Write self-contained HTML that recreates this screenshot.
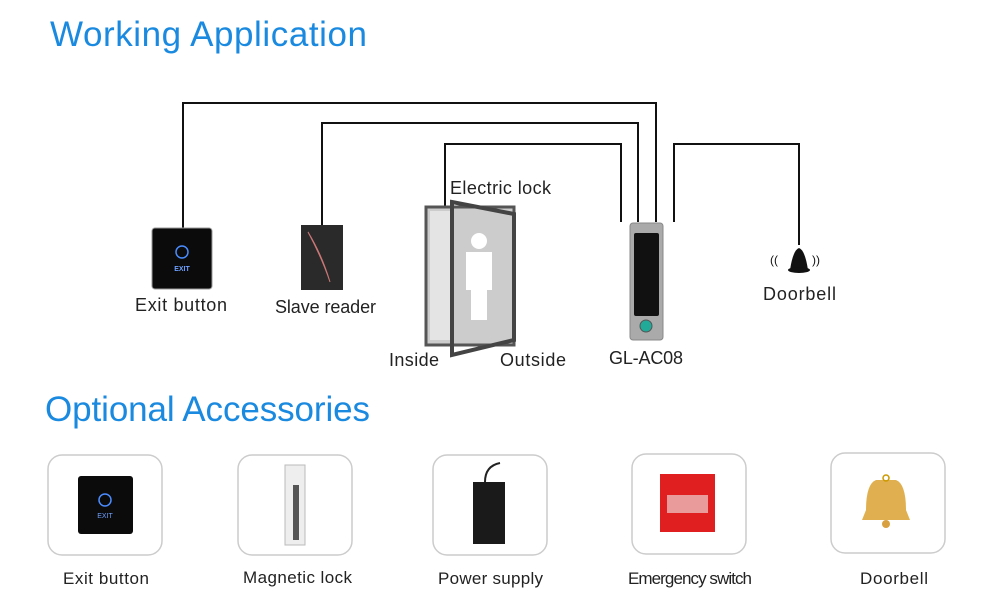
<!DOCTYPE html>
<html><head><meta charset="utf-8"><style>
body{margin:0;background:#fff;width:993px;height:597px;overflow:hidden;font-family:"Liberation Sans",sans-serif}
</style></head><body>
<svg width="993" height="597" viewBox="0 0 993 597" xmlns="http://www.w3.org/2000/svg" font-family="Liberation Sans, sans-serif">
<text x="50" y="46" font-size="35" fill="#1a8ae0" textLength="317">Working Application</text>
<text x="45" y="421" font-size="35" fill="#1a8ae0" textLength="325">Optional Accessories</text>
<g fill="none" stroke="#111" stroke-width="2">
<polyline points="183,228 183,103 656,103 656,222"/>
<polyline points="322,226 322,123 638,123 638,222"/>
<polyline points="445,207 445,144 621,144 621,222"/>
<polyline points="674,222 674,144 799,144 799,245"/>
</g>
<!-- exit button -->
<rect x="152" y="228" width="60" height="61" rx="3" fill="#0b0b0b" stroke="#999"/>
<circle cx="182" cy="252" r="6" fill="none" stroke="#4a8cff" stroke-width="1.5"/>
<text x="182" y="271" font-size="7" fill="#6ea0ff" text-anchor="middle" font-weight="bold">EXIT</text>
<text x="135" y="311" font-size="18" fill="#222" textLength="92">Exit button</text>
<!-- slave reader -->
<rect x="301" y="225" width="42" height="65" fill="#2a2a2a"/>
<path d="M308 232 Q322 255 330 282 Q322 258 308 232Z" fill="#e59a9a" stroke="#c77"/>
<text x="275" y="313" font-size="18" fill="#222" textLength="101">Slave reader</text>
<!-- door -->
<rect x="426" y="207" width="88" height="138" fill="#ccc" stroke="#555" stroke-width="3"/>
<polygon points="430,211 452,211 452,340 430,340" fill="#e4e4e4"/>
<polygon points="452,202 514,214 514,340 452,355" fill="none" stroke="#444" stroke-width="4"/>
<circle cx="479" cy="241" r="8" fill="#fff"/>
<path d="M466 252 h26 v38 h-5 v30 h-16 v-30 h-5z" fill="#fff"/>
<text x="450" y="194" font-size="18" fill="#222" textLength="101">Electric lock</text>
<text x="389" y="366" font-size="18" fill="#222" textLength="50">Inside</text>
<text x="500" y="366" font-size="18" fill="#222" textLength="66">Outside</text>
<!-- controller -->
<rect x="630" y="223" width="33" height="117" rx="3" fill="#aaa" stroke="#888"/>
<rect x="634" y="233" width="25" height="83" rx="2" fill="#111"/>
<circle cx="646" cy="326" r="6" fill="#2a9" stroke="#555"/>
<text x="609" y="364" font-size="18" fill="#222" textLength="74">GL-AC08</text>
<!-- bell -->
<path d="M790 270 Q793 250 799 248 Q805 250 808 270 Z" fill="#111"/>
<ellipse cx="799" cy="270" rx="11" ry="3" fill="#111"/>
<text x="770" y="264" font-size="12" fill="#111">((</text>
<text x="812" y="264" font-size="12" fill="#111">))</text>
<text x="763" y="300" font-size="18" fill="#222" textLength="73">Doorbell</text>
<!-- accessories -->
<g fill="#fff" stroke="#ccc" stroke-width="1.5">
<rect x="48" y="455" width="114" height="100" rx="14"/>
<rect x="238" y="455" width="114" height="100" rx="14"/>
<rect x="433" y="455" width="114" height="100" rx="14"/>
<rect x="632" y="454" width="114" height="100" rx="14"/>
<rect x="831" y="453" width="114" height="100" rx="14"/>
</g>
<rect x="78" y="476" width="55" height="58" rx="3" fill="#0b0b0b"/>
<circle cx="105" cy="500" r="6" fill="none" stroke="#4a8cff" stroke-width="1.5"/>
<text x="105" y="518" font-size="7" fill="#6ea0ff" text-anchor="middle">EXIT</text>
<rect x="285" y="465" width="20" height="80" fill="#eee" stroke="#bbb"/>
<rect x="293" y="485" width="6" height="55" fill="#555"/>
<rect x="473" y="482" width="32" height="62" fill="#1a1a1a"/>
<path d="M485 482 Q485 466 500 463" fill="none" stroke="#222" stroke-width="2"/>
<rect x="660" y="474" width="55" height="58" fill="#e02020"/>
<rect x="667" y="495" width="41" height="18" fill="#eee" opacity=".6"/>
<path d="M876 480 Q866 484 866 510 L862 520 H910 L906 510 Q906 484 896 480 Z" fill="#e0b050"/>
<circle cx="886" cy="478" r="3" fill="none" stroke="#c90" stroke-width="1.5"/>
<circle cx="886" cy="524" r="4" fill="#d9a040"/>
<g font-size="17" fill="#222">
<text x="63" y="584" textLength="86">Exit button</text>
<text x="243" y="583" textLength="109">Magnetic lock</text>
<text x="438" y="584" textLength="105">Power supply</text>
<text x="628" y="584" textLength="124">Emergency switch</text>
<text x="860" y="584" textLength="68">Doorbell</text>
</g>
</svg>
</body></html>
